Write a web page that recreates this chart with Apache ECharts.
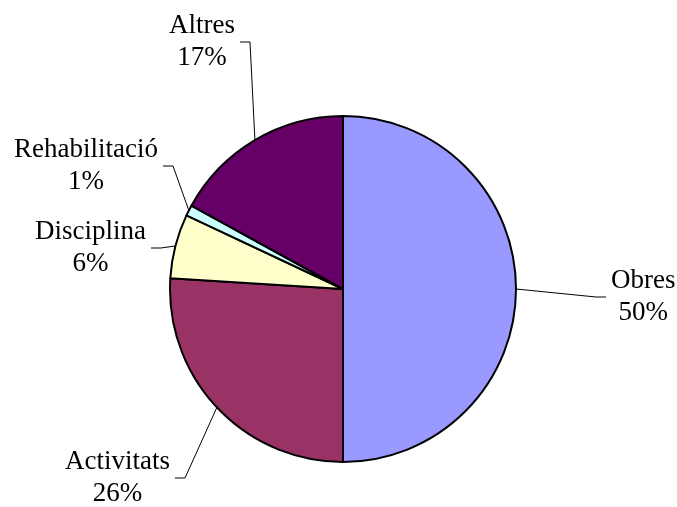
<!DOCTYPE html>
<html>
<head>
<meta charset="utf-8">
<script src="https://cdn.jsdelivr.net/npm/echarts@6/dist/echarts.min.js"></script>
<style>
  html, body { margin: 0; padding: 0; background: #fff; }
  #chart { width: 677px; height: 507px; }
</style>
</head>
<body>
<div id="chart"></div>
<script>
// data
const categories = ['Obres', 'Activitats', 'Disciplina', 'Rehabilitació', 'Altres']
const shares = [50, 26, 6, 1, 17] // %
const sliceColors = ['#9999FF', '#993366', '#FFFFCC', '#CCFFFF', '#660066']

// where each leader line ends (label sits next to it), and which side the text goes
const labelEnds = [[606, 297], [175, 478], [151, 248], [163, 166], [240, 42]]
const labelSides = ['right', 'left', 'left', 'left', 'left']

const font = 'Liberation Serif, Times New Roman, serif'

let myChart = echarts.init(document.getElementById('chart'), null, {renderer: 'canvas'})

myChart.setOption({
  animation: false,
  series: [
    {
      type: 'pie',
      center: [343, 289],
      radius: 173,
      startAngle: 90,
      clockwise: true,
      avoidLabelOverlap: false,
      itemStyle: {borderColor: '#000', borderWidth: 2},
      emphasis: {disabled: true},
      label: {
        show: true,
        position: 'outside',
        color: '#000',
        formatter: p => '{n|' + p.name + '}\n{n|' + p.value + '%}',
        rich: {
          n: {fontFamily: font, fontSize: 27, lineHeight: 32, color: '#000', align: 'center'},
        },
      },
      labelLine: {
        show: true,
        length: 2,
        length2: 2,
        lineStyle: {color: '#000', width: 1},
      },
      labelLayout: params => {
        const i = params.dataIndex
        const end = labelEnds[i]
        const side = labelSides[i]
        const dir = side === 'right' ? 1 : -1
        const edge = params.labelLinePoints ? params.labelLinePoints[0] : end
        return {
          x: end[0] + dir * 5,
          y: end[1],
          align: side === 'right' ? 'left' : 'right',
          verticalAlign: 'middle',
          labelLinePoints: [edge, [end[0] - dir * 10, end[1]], end],
        }
      },
      data: categories.map((c, i) => ({
        name: c,
        value: shares[i],
        itemStyle: {color: sliceColors[i]},
      })),
    },
  ],
})
</script>
</body>
</html>
